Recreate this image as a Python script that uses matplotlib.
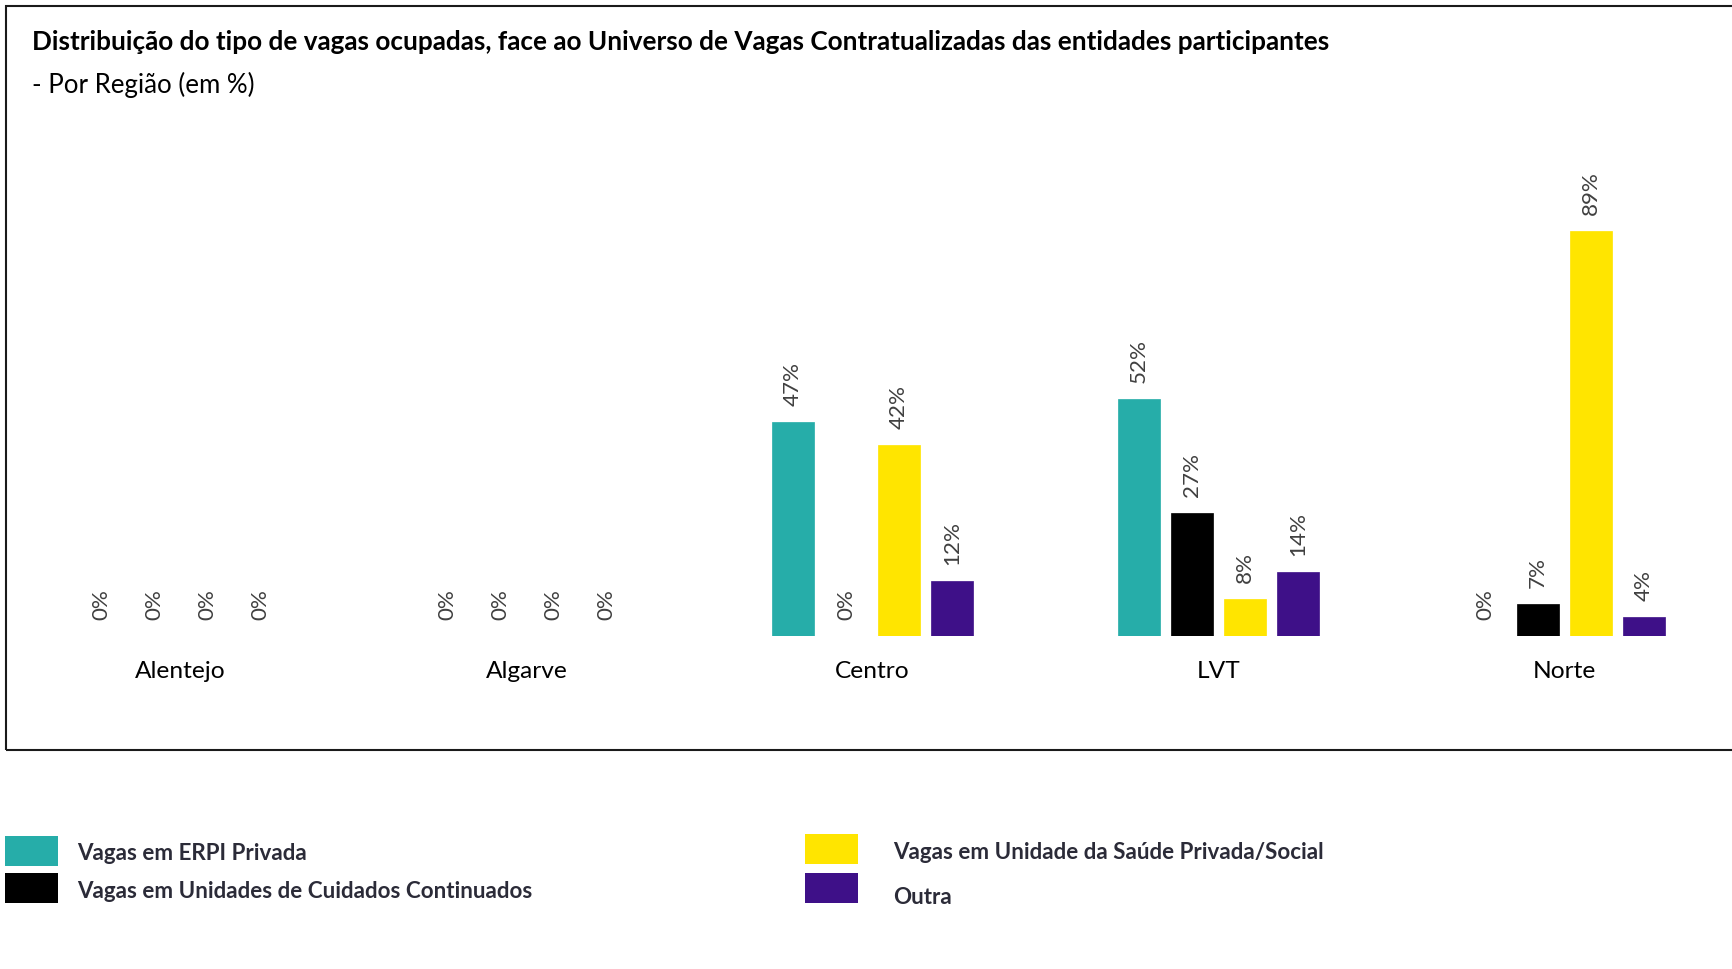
import numpy as np
import matplotlib
matplotlib.use("Agg")
import matplotlib.pyplot as plt
from matplotlib.patches import Rectangle

# ---------------- data ----------------
regions = ["Alentejo", "Algarve", "Centro", "LVT", "Norte"]
series_names = [
    "Vagas em ERPI Privada",
    "Vagas em Unidades de Cuidados Continuados",
    "Vagas em Unidade da Saúde Privada/Social",
    "Outra",
]
erpi_privada = [0, 0, 47, 52, 0]
cuidados_continuados = [0, 0, 0, 27, 7]
saude_privada_social = [0, 0, 42, 8, 89]
outra = [0, 0, 12, 14, 4]
series_values = [erpi_privada, cuidados_continuados, saude_privada_social, outra]
series_colors = ["#26ADA9", "#000000", "#FFE500", "#3E1088"]

title = ("Distribuição do tipo de vagas ocupadas, face ao Universo de Vagas "
         "Contratualizadas das entidades participantes")
subtitle = "- Por Região (em %)"

# ---------------- figure ----------------
W, H = 1733, 970
FONT = ["Lato", "DejaVu Sans"]
plt.rcParams["font.family"] = FONT
fig = plt.figure(figsize=(W / 100, H / 100), dpi=100)
fig.patch.set_facecolor("white")
renderer = fig.canvas.get_renderer()


def fx(x):
    return x / W


def fy(y):
    return 1 - y / H


def fit_size(s, target_w, weight="normal", base=20):
    t = fig.text(0, 0, s, fontsize=base, fontweight=weight)
    w = t.get_window_extent(renderer).width
    t.remove()
    return base * target_w / w


def fig_text(x, y, s, target_w, weight="normal", color="black", ha="left", va="center"):
    size = fit_size(s, target_w, weight)
    fig.text(fx(x), fy(y), s, fontsize=size, fontweight=weight, color=color,
             ha=ha, va=va)


# outer frame (extends past the right edge)
fig.patches.append(Rectangle((fx(6), fy(750.5)), 1.2, (750.5 - 6.5) / H,
                             transform=fig.transFigure, fill=False,
                             edgecolor="#1a1a1a", linewidth=1.5, zorder=0))

# titles
fig_text(32, 42, title, 1299, weight="bold", color="black")
fig_text(32, 85, subtitle, 222, color="black")

# axes: group spacing 346 px, baseline at y=636.5 px, 4.54 px per %
left_px, right_px = 7.6, 1737.5
base_px, px_per_pct = 636.5, 4.54
ax = fig.add_axes([fx(left_px), fy(base_px), (right_px - left_px) / W,
                   100 * px_per_pct / H])
ax.set_xlim(-0.5, 4.5)
ax.set_ylim(0, 100)
ax.axis("off")

x = np.arange(len(regions))
stride = 53 / 346
bar_w = 41.5 / 346
label_size = fit_size("47%", 44)
for k, (vals, col) in enumerate(zip(series_values, series_colors)):
    pos = x + (k - 1.5) * stride
    ax.bar(pos, vals, width=bar_w, color=col, edgecolor=col, linewidth=0.5)
    for p, v in zip(pos, vals):
        ax.annotate(f"{v:.0f}%", (p, v), xytext=(0, 17 * 0.72),
                    textcoords="offset points", rotation=90, ha="center",
                    va="bottom", fontsize=label_size, color="#404040")

cat_size = fit_size("Alentejo", 90.6)
for xi, name in zip(x, regions):
    ax.annotate(name, (xi, 0), xytext=(0, -35.5 * 0.72), textcoords="offset points",
                ha="center", va="center", fontsize=cat_size, color="black")

# legend (manual layout)
leg_items = [
    (5.5, 837, 77, 854, 0),
    (5.5, 874, 77, 892, 1),
    (804.6, 834.5, 893, 853, 2),
    (804.6, 874, 893, 897, 3),
]
leg_size = fit_size(series_names[1], 454.6, weight="bold")
for sx, sy, tx, ty, k in leg_items:
    fig.patches.append(Rectangle((fx(sx), fy(sy + 30)), 53 / W, 30 / H,
                                 transform=fig.transFigure,
                                 facecolor=series_colors[k], edgecolor="none"))
    fig.text(fx(tx), fy(ty), series_names[k], fontsize=leg_size, fontweight="bold",
             color="#2b2b38", ha="left", va="center")

fig.savefig("out.png", dpi=100, facecolor="white")
